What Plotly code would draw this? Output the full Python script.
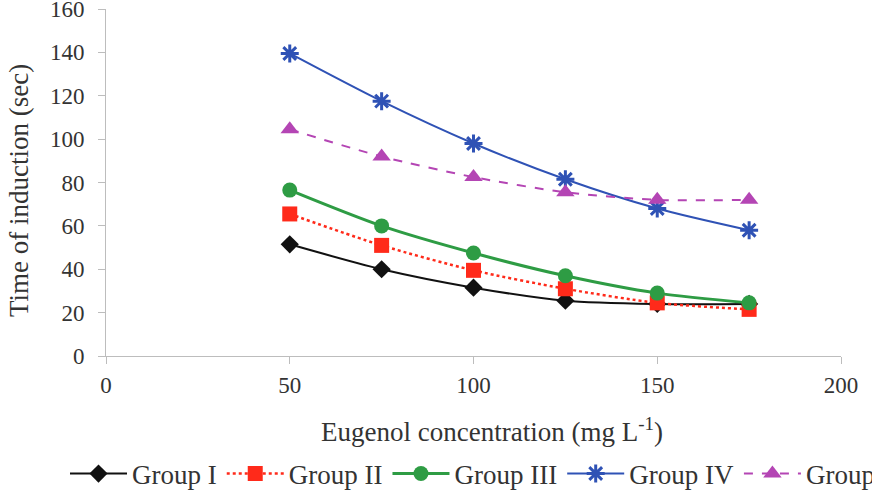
import plotly.graph_objects as go

conc = [50, 75, 100, 125, 150, 175]
group_names = ["Group I", "Group II", "Group III", "Group IV", "Group V"]
group_i = [51.5, 40, 31.5, 25.5, 24, 24]
group_ii = [65.5, 51, 39.5, 31, 24.5, 21.5]
group_iii = [76.5, 60, 47.5, 37, 29, 24.5]
group_iv = [139.5, 117.5, 98, 81.5, 68, 58]
group_v = [104.5, 92, 82.5, 75.5, 72, 72]
x_ticks = [0, 50, 100, 150, 200]
y_ticks = [0, 20, 40, 60, 80, 100, 120, 140, 160]

W, H = 872, 492
L, R, T, B = 106, 872 - 841, 9, 492 - 356
PW, PH = W - L - R, H - T - B
FONT = "Liberation Serif, Times New Roman, serif"

styles = [
    dict(color="#111111", dash="solid", width=2, symbol="diamond", size=14, mline=0),
    dict(color="#ff2a1a", dash="dot", width=2.5, symbol="square", size=15, mline=0),
    dict(color="#2e9c44", dash="solid", width=3, symbol="circle", size=15, mline=0),
    dict(color="#2f52b5", dash="solid", width=2, symbol="asterisk-open", size=15, mline=3),
    dict(color="#b445b4", dash="dash", width=2, symbol="triangle-up", size=16, mline=0),
]
series = [group_i, group_ii, group_iii, group_iv, group_v]

fig = go.Figure()
for name, vals, s in zip(group_names, series, styles):
    marker = dict(symbol=s["symbol"], size=s["size"], color=s["color"])
    if s["mline"]:
        marker["line"] = dict(color=s["color"], width=s["mline"])
    fig.add_trace(go.Scatter(
        x=conc, y=vals, name=name, mode="lines+markers",
        line=dict(color=s["color"], dash=s["dash"], width=s["width"], shape="spline", smoothing=0.8),
        marker=marker,
    ))

axis_common = dict(
    showgrid=False, zeroline=False, showline=True, linecolor="#bdbdbd", linewidth=1,
    ticks="outside", tickcolor="#bdbdbd", ticklen=7, tickwidth=1,
    tickfont=dict(family=FONT, size=23, color="#333333"),
    ticklabeloverflow="allow",
)

fig.update_layout(
    width=W, height=H,
    margin=dict(l=L, r=R, t=T, b=B, autoexpand=False),
    paper_bgcolor="white", plot_bgcolor="white",
    font=dict(family=FONT, color="#333333"),
    xaxis=dict(range=[0, 200], tickvals=x_ticks, ticklabelstandoff=1, **axis_common),
    yaxis=dict(range=[0, 160], tickvals=y_ticks, ticklabelstandoff=9, **axis_common),
    legend=dict(
        orientation="h", x=(65 - L) / PW, xanchor="left", y=(356 - 474) / PH, yanchor="middle",
        font=dict(family=FONT, size=27, color="#333333"), itemwidth=57,
        bgcolor="rgba(0,0,0,0)", borderwidth=0,
    ),
    showlegend=True,
    annotations=[
        dict(text="Eugenol concentration (mg L<sup>-1</sup>)", xref="paper", yref="paper",
             x=(492 - L) / PW, y=(356 - 430) / PH, xanchor="center", yanchor="middle",
             showarrow=False, font=dict(family=FONT, size=27, color="#333333")),
        dict(text="Time of induction (sec)", xref="paper", yref="paper", textangle=-90,
             x=(19 - L) / PW, y=(356 - 191) / PH, xanchor="center", yanchor="middle",
             showarrow=False, font=dict(family=FONT, size=27, color="#333333")),
    ],
)

fig.write_html("out.html")
